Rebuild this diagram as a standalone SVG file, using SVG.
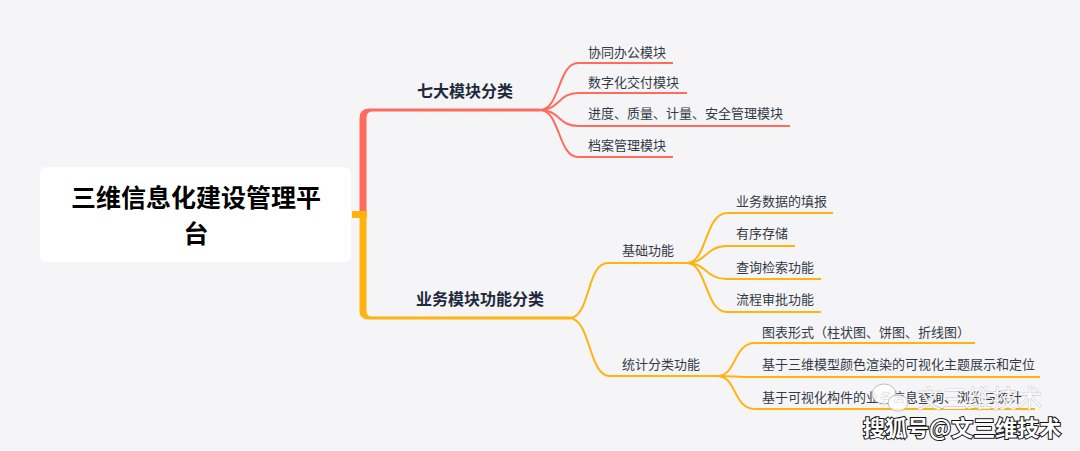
<svg xmlns="http://www.w3.org/2000/svg" width="1080" height="451" viewBox="0 0 1080 451">
<style>
.bg{fill:#f5f5f8}
.root-box{fill:#ffffff}
.root-t{font-family:"Noto Sans CJK SC","Noto Sans",sans-serif;font-weight:700;font-size:25px;fill:#000;text-anchor:middle}
.br-t{font-family:"Noto Sans CJK SC","Noto Sans",sans-serif;font-weight:700;font-size:16px;fill:#1e2a3c}
.lf-t{font-family:"Noto Sans CJK SC","Noto Sans",sans-serif;font-size:13px;fill:#333a45}
.red{fill:none;stroke:#ff6c5c;stroke-width:2}
.yel{fill:none;stroke:#ffb30f;stroke-width:2}
.wm1{font-family:"Noto Sans CJK SC",sans-serif;font-size:25px;fill:#ffffff;fill-opacity:0.85;stroke:#9a9a9a;stroke-opacity:0.6;stroke-width:0.8;paint-order:stroke}
.wm2{font-family:"Noto Sans CJK SC",sans-serif;font-weight:700;font-size:22px;fill:#ffffff;stroke:#111;stroke-width:2;paint-order:stroke}
</style>
<rect class="bg" x="0" y="0" width="1080" height="451"/>

<g id="connectors">
  <path d="M359.5,214 V118 Q359.5,109 368.5,108.5 H540 V111.5 H372 Q366.5,111.5 366.5,118 V214 Z" fill="#ff6c5c"/>
  <rect x="352" y="211" width="15" height="7" fill="#ffb30f"/>
  <path d="M359.5,218 V311 Q359.5,319.5 368.5,319.5 H570 V316.5 H372 Q366.5,316.5 366.5,311 V218 Z" fill="#ffb30f"/>
  <path class="red" d="M540,110 C560,110 558,63 578,63 H673"/>
  <path class="red" d="M540,110 C560,110 558,93 578,93 H687"/>
  <path class="red" d="M540,110 C560,110 558,126 578,126 H790"/>
  <path class="red" d="M540,110 C560,110 558,157 578,157 H673"/>
  <path class="yel" d="M569,318 C591,318 586,263 608,263 H687"/>
  <path class="yel" d="M569,318 C591,318 588,376 610,376 H717"/>
  <path class="yel" d="M687,263 C707,263 705,213 727,213 H833"/>
  <path class="yel" d="M687,263 C707,263 705,246 727,246 H795"/>
  <path class="yel" d="M687,263 C707,263 705,279 727,279 H821"/>
  <path class="yel" d="M687,263 C707,263 705,312 727,312 H821"/>
  <path class="yel" d="M717,376 C737,376 733,343 755,343 H975"/>
  <path class="yel" d="M717,376 C737,376 733,377 755,377 H1040"/>
  <path class="yel" d="M717,376 C737,376 733,409 755,409 H1035"/>
</g>

<g id="root">
  <rect class="root-box" x="40" y="167" width="311" height="95" rx="6"/>
  <text class="root-t" x="196" y="206.5">三维信息化建设管理平</text>
  <text class="root-t" x="196" y="242.5">台</text>
</g>

<g id="branch-seven">
  <text class="br-t" x="417" y="97">七大模块分类</text>
</g>
<g id="leaf-1"><text class="lf-t" x="588" y="57">协同办公模块</text></g>
<g id="leaf-2"><text class="lf-t" x="588" y="87">数字化交付模块</text></g>
<g id="leaf-3"><text class="lf-t" x="588" y="118">进度、质量、计量、安全管理模块</text></g>
<g id="leaf-4"><text class="lf-t" x="588" y="150">档案管理模块</text></g>

<g id="branch-business">
  <text class="br-t" x="416" y="305">业务模块功能分类</text>
</g>
<g id="basic"><text class="lf-t" x="622" y="255">基础功能</text></g>
<g id="stats"><text class="lf-t" x="622" y="369">统计分类功能</text></g>
<g id="basic-1"><text class="lf-t" x="736" y="206">业务数据的填报</text></g>
<g id="basic-2"><text class="lf-t" x="736" y="238">有序存储</text></g>
<g id="basic-3"><text class="lf-t" x="736" y="272">查询检索功能</text></g>
<g id="basic-4"><text class="lf-t" x="736" y="304">流程审批功能</text></g>
<g id="stats-1"><text class="lf-t" x="762" y="337">图表形式（柱状图、饼图、折线图）</text></g>
<g id="stats-2"><text class="lf-t" x="762" y="369">基于三维模型颜色渲染的可视化主题展示和定位</text></g>
<g id="stats-3"><text class="lf-t" x="762" y="402">基于可视化构件的业务信息查询、浏览与统计</text></g>

<g id="watermark">
  <ellipse cx="884" cy="394" rx="12" ry="10" fill="#ffffff" fill-opacity="0.85" stroke="#9a9a9a" stroke-opacity="0.6"/>
  <ellipse cx="898" cy="403" rx="10" ry="8" fill="#ffffff" fill-opacity="0.85" stroke="#9a9a9a" stroke-opacity="0.6"/>
  <text class="wm1" x="917" y="408">文三维技术</text>
  <text class="wm2" x="863" y="436">搜狐号@文三维技术</text>
</g>
</svg>
